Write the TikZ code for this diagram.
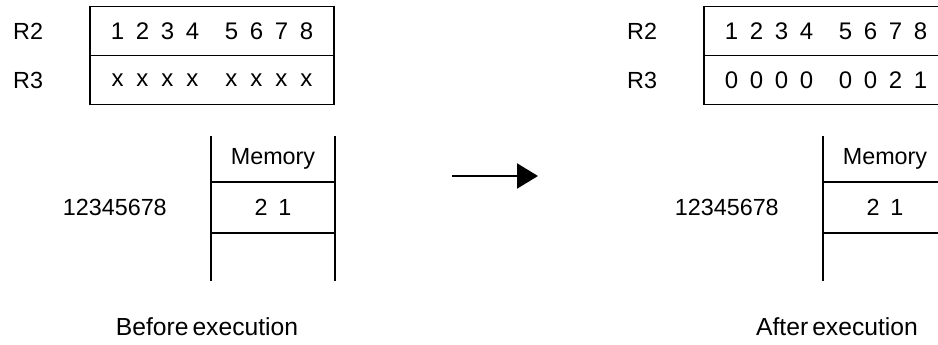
\documentclass[tikz,border=0pt]{standalone}
\usepackage{fontspec}
\setmainfont{Liberation Sans}
\usetikzlibrary{arrows.meta, positioning}
% one register: two groups of four cells
\newcommand{\regcells}[8]{%
  \makebox[18.75pt]{#1}\makebox[18.75pt]{#2}\makebox[18.75pt]{#3}\makebox[18.75pt]{#4}%
  \hspace{10.5pt}%
  \makebox[18.75pt]{#5}\makebox[18.75pt]{#6}\makebox[18.75pt]{#7}\makebox[18.75pt]{#8}}
\tikzset{
  regrow/.style={rectangle, draw=black, line width=0.9pt, minimum width=183pt, minimum height=36.75pt,
    inner sep=0pt, outer sep=0pt, font=\fontsize{18}{21}\selectfont},
  memcell/.style={rectangle, minimum width=93pt, inner sep=0pt, outer sep=0pt, font=\fontsize{17.5}{21}\selectfont},
  lbl/.style={inner sep=0pt, font=\fontsize{17.5}{21}\selectfont},
  capt/.style={inner sep=0pt, font=\fontsize{18.5}{22}\selectfont},
  memline/.style={line width=0.9pt, black},
  arr/.style={-{Triangle[length=15.75pt, width=18.75pt]}, line width=1.6pt, black},
}
\begin{document}
\begin{tikzpicture}[x=0.75pt, y=-0.75pt]
  \useasboundingbox (0,0) rectangle (938,345);
  \clip (0,0) rectangle (938,345);
  % before execution
  \node[regrow] (r2a) at (212,31) {\regcells{1}{2}{3}{4}{5}{6}{7}{8}};
  \node[regrow, below=0pt of r2a] (r3a) {\regcells{x}{x}{x}{x}{x}{x}{x}{x}};
  \node[lbl, left=35pt of r2a] (r2alab) {R2};
  \node[lbl, left=35pt of r3a] (r3alab) {R3};
  \node[memcell, minimum height=34.5pt] (mha) at (273,159) {Memory};
  \node[memcell, minimum height=38.25pt, below=0pt of mha] (mva) {2\hspace{8pt}1};
  \node[memcell, minimum height=36pt, below=0pt of mva] (mfa) {};
  \draw[memline] (mha.north west) -- (mfa.south west);
  \draw[memline] (mha.north east) -- (mfa.south east);
  \draw[memline] (mha.south west) -- (mha.south east);
  \draw[memline] (mva.south west) -- (mva.south east);
  \node[lbl, left=33pt of mva] (adra) {12345678};
  \node[capt] (capa) at (207,327) {Before\hspace{3pt}execution};
  % arrow
  \coordinate (arrs) at (452,176);
  \coordinate (arre) at (538,176);
  \draw[arr] (arrs) -- (arre);
  % after execution
  \node[regrow] (r2b) at (826,31) {\regcells{1}{2}{3}{4}{5}{6}{7}{8}};
  \node[regrow, below=0pt of r2b] (r3b) {\regcells{0}{0}{0}{0}{0}{0}{2}{1}};
  \node[lbl, left=35pt of r2b] (r2blab) {R2};
  \node[lbl, left=35pt of r3b] (r3blab) {R3};
  \node[memcell, minimum height=34.5pt] (mhb) at (885,159) {Memory};
  \node[memcell, minimum height=38.25pt, below=0pt of mhb] (mvb) {2\hspace{8pt}1};
  \node[memcell, minimum height=36pt, below=0pt of mvb] (mfb) {};
  \draw[memline] (mhb.north west) -- (mfb.south west);
  \draw[memline] (mhb.north east) -- (mfb.south east);
  \draw[memline] (mhb.south west) -- (mhb.south east);
  \draw[memline] (mvb.south west) -- (mvb.south east);
  \node[lbl, left=33pt of mvb] (adrb) {12345678};
  \node[capt] (capb) at (837,327) {After\hspace{3pt}execution};
\end{tikzpicture}
\end{document}
